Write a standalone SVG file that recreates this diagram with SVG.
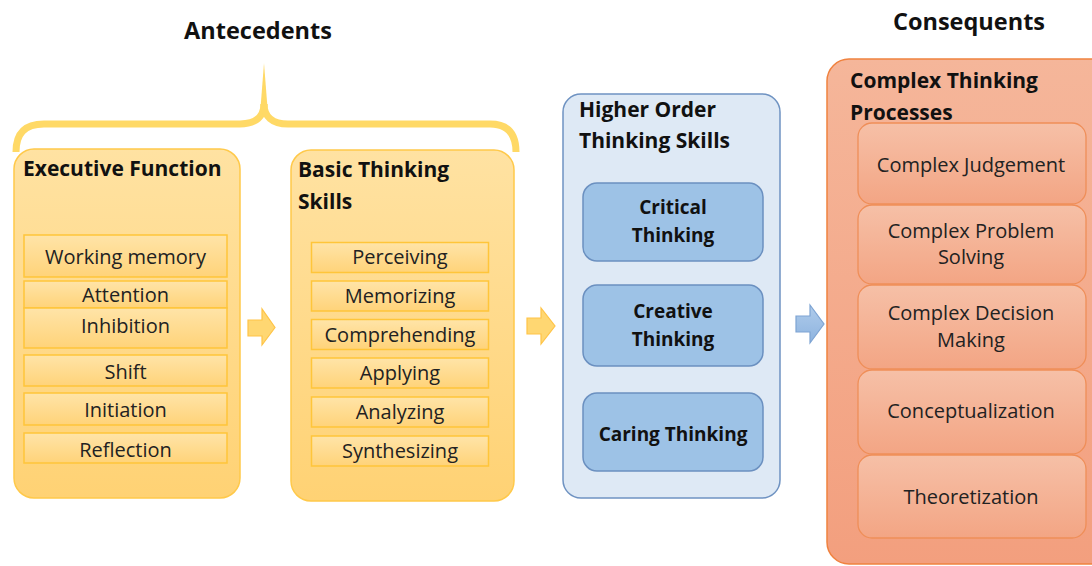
<svg xmlns="http://www.w3.org/2000/svg" width="1092" height="566" viewBox="0 0 1092 566">
<defs>
<linearGradient id="gGold" x1="0" y1="0" x2="0" y2="1"><stop offset="0" stop-color="#FFE2A2"/><stop offset="1" stop-color="#FFD274"/></linearGradient>
<linearGradient id="gGoldItem" x1="0" y1="0" x2="0" y2="1"><stop offset="0" stop-color="#FFE4A8"/><stop offset="1" stop-color="#FFD379"/></linearGradient>
<linearGradient id="gOrange" x1="0" y1="0" x2="0" y2="1"><stop offset="0" stop-color="#F5B69A"/><stop offset="1" stop-color="#F39F7E"/></linearGradient>
<linearGradient id="gOrangeItem" x1="0" y1="0" x2="0" y2="1"><stop offset="0" stop-color="#F6C0A7"/><stop offset="1" stop-color="#F3A584"/></linearGradient>
<linearGradient id="gBlueArrow" x1="0" y1="0" x2="0" y2="1"><stop offset="0" stop-color="#B0CCEB"/><stop offset="1" stop-color="#8DB3DF"/></linearGradient>
<style>
.h{font-family:"Open Sans","Liberation Sans",sans-serif;font-weight:bold;font-size:21px;fill:#111;}
.big{font-family:"Open Sans","Liberation Sans",sans-serif;font-weight:bold;font-size:23.5px;fill:#111;text-anchor:middle;}
.it{font-family:"Open Sans","Liberation Sans",sans-serif;font-size:20px;fill:#222;text-anchor:middle;}
.bt{font-family:"Open Sans","Liberation Sans",sans-serif;font-weight:bold;font-size:19px;fill:#111;text-anchor:middle;}
.goldBox{fill:url(#gGold);stroke:#FFC94A;stroke-width:1.5;}
.goldItem{fill:url(#gGoldItem);stroke:#FFC53A;stroke-width:1.5;}
.blueBox{fill:#DEE9F5;stroke:#6F93C2;stroke-width:1.5;}
.blueItem{fill:#9DC2E6;stroke:#6B90C0;stroke-width:1.5;}
.orBox{fill:url(#gOrange);stroke:#F0823F;stroke-width:1.5;}
.orItem{fill:url(#gOrangeItem);stroke:#EF8E58;stroke-width:1.3;}
.goldArrow{fill:#FFD772;stroke:#FFC447;stroke-width:1.2;}
.blueArrow{fill:url(#gBlueArrow);stroke:#7EA4D3;stroke-width:1.2;}
.brace{fill:none;stroke:#FFD966;stroke-width:7;stroke-linecap:butt;}
</style>
</defs>
<rect width="1092" height="566" fill="#FFFFFF"/>

<g id="antecedents-label">
<path class="brace" d="M16,152 C16,134 24,124 44,124 L240,124 C256,124 264,116 264,104"/>
<path class="brace" d="M264,104 C264,116 272,124 288,124 L490,124 C508,124 516,134 516,152"/>
<path d="M260.5,108 L264,63 L267.5,108 Z" fill="#FFD966"/>
<text class="big" x="258" y="39">Antecedents</text>
</g>

<g id="consequents-label">
<text class="big" x="969" y="30">Consequents</text>
</g>

<g id="executive-function">
<rect class="goldBox" x="14" y="149" width="226" height="349" rx="20"/>
<text class="h" x="23" y="176">Executive Function</text>
<rect class="goldItem" x="24" y="235" width="203" height="42"/>
<text class="it" x="125.5" y="264">Working memory</text>
<rect class="goldItem" x="24" y="281" width="203" height="27"/>
<text class="it" x="125.5" y="302">Attention</text>
<rect class="goldItem" x="24" y="308" width="203" height="40"/>
<text class="it" x="125.5" y="333">Inhibition</text>
<rect class="goldItem" x="24" y="355" width="203" height="31"/>
<text class="it" x="125.5" y="379">Shift</text>
<rect class="goldItem" x="24" y="393" width="203" height="32"/>
<text class="it" x="125.5" y="417">Initiation</text>
<rect class="goldItem" x="24" y="433" width="203" height="30"/>
<text class="it" x="125.5" y="457">Reflection</text>
</g>

<g id="basic-thinking-skills">
<rect class="goldBox" x="291" y="150" width="223" height="351" rx="20"/>
<text class="h" x="298" y="177">Basic Thinking</text>
<text class="h" x="298" y="209">Skills</text>
<rect class="goldItem" x="311.5" y="242.5" width="177" height="30"/>
<text class="it" x="400" y="264">Perceiving</text>
<rect class="goldItem" x="311.5" y="281" width="177" height="30"/>
<text class="it" x="400" y="303">Memorizing</text>
<rect class="goldItem" x="311.5" y="319.5" width="177" height="30"/>
<text class="it" x="400" y="341.5">Comprehending</text>
<rect class="goldItem" x="311.5" y="358" width="177" height="30"/>
<text class="it" x="400" y="380">Applying</text>
<rect class="goldItem" x="311.5" y="397" width="177" height="30"/>
<text class="it" x="400" y="419">Analyzing</text>
<rect class="goldItem" x="311.5" y="436" width="177" height="30"/>
<text class="it" x="400" y="458">Synthesizing</text>
</g>

<g id="higher-order-thinking-skills">
<rect class="blueBox" x="563" y="94" width="217" height="404" rx="18"/>
<text class="h" x="579" y="117">Higher Order</text>
<text class="h" x="579" y="148">Thinking Skills</text>
<rect class="blueItem" x="583" y="183" width="180" height="78" rx="14"/>
<text class="bt" x="673" y="214">Critical</text>
<text class="bt" x="673" y="242">Thinking</text>
<rect class="blueItem" x="583" y="285" width="180" height="81" rx="14"/>
<text class="bt" x="673" y="318">Creative</text>
<text class="bt" x="673" y="346">Thinking</text>
<rect class="blueItem" x="583" y="393" width="180" height="78" rx="14"/>
<text class="bt" x="673" y="441">Caring Thinking</text>
</g>

<g id="complex-thinking-processes">
<rect class="orBox" x="827" y="59" width="290" height="505" rx="22"/>
<text class="h" x="850" y="88">Complex Thinking</text>
<text class="h" x="850" y="120">Processes</text>
<rect class="orItem" x="858" y="123" width="228" height="81" rx="14"/>
<text class="it" x="971" y="172">Complex Judgement</text>
<rect class="orItem" x="858" y="205" width="228" height="79" rx="14"/>
<text class="it" x="971" y="238">Complex Problem</text>
<text class="it" x="971" y="264">Solving</text>
<rect class="orItem" x="858" y="285" width="228" height="84" rx="14"/>
<text class="it" x="971" y="320">Complex Decision</text>
<text class="it" x="971" y="347">Making</text>
<rect class="orItem" x="858" y="370" width="228" height="84" rx="14"/>
<text class="it" x="971" y="418">Conceptualization</text>
<rect class="orItem" x="858" y="455" width="228" height="83" rx="14"/>
<text class="it" x="971" y="504">Theoretization</text>
</g>

<g id="connectors">
<path class="goldArrow" d="M248,320 L262,320 L262,309 L275,327.5 L262,345 L262,336 L248,336 Z"/>
<path class="goldArrow" d="M527,318 L541,318 L541,308 L555,326 L541,344 L541,334 L527,334 Z"/>
<path class="blueArrow" d="M796,316 L810,316 L810,305 L824,324 L810,343 L810,332 L796,332 Z"/>
</g>
</svg>
